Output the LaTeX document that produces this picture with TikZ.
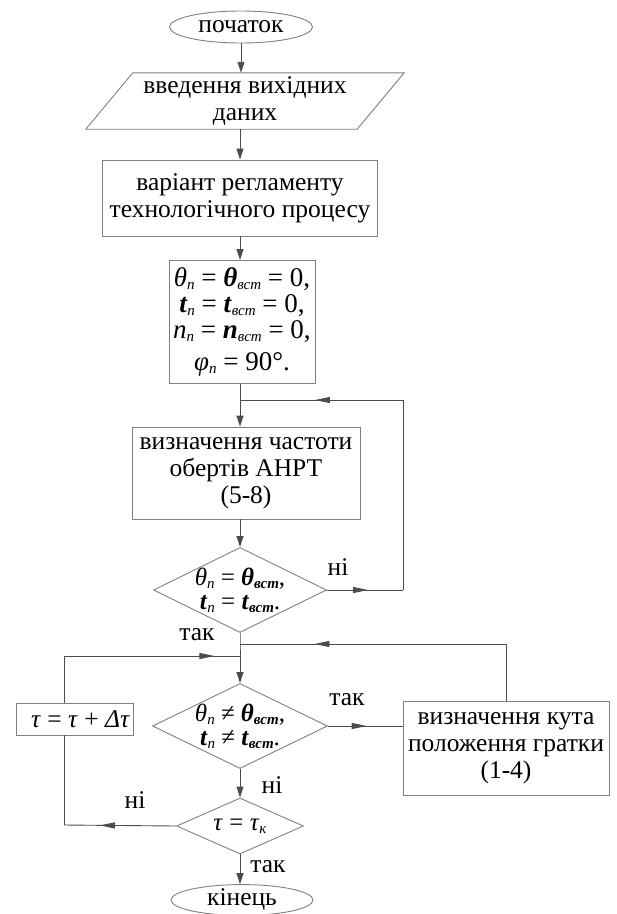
\documentclass[tikz,border=0pt]{standalone}
\usepackage{fontspec}
\setmainfont{Liberation Serif}
\usetikzlibrary{shapes.geometric,arrows.meta,decorations.markings,calc}

\newcommand{\bigtext}{\fontsize{25.5}{27}\selectfont}
\newcommand{\low}[1]{\raisebox{-0.25ex}{\fontsize{15}{15}\selectfont\itshape #1}}

\tikzset{
  line/.style={draw=black!70, line width=0.9pt},
  arr/.style={line, -{Triangle[length=11pt,width=7pt]}},
  block/.style={draw=black!50, line width=0.9pt, align=center, inner sep=2pt},
  terminal/.style={block, ellipse, inner sep=0pt},
  decision/.style={block, diamond, inner sep=-5pt, aspect=2, font=\fontsize{25}{24}\selectfont},
  tipat/.style={postaction={decorate}, decoration={markings,
      mark=at position #1 with {\arrow{Triangle[length=15pt,width=6pt]}}}},
}

\begin{document}
\begin{tikzpicture}[x=1pt, y=-1pt, font=\bigtext]
  \useasboundingbox (0,0) rectangle (617,914);

  \path
  (241,27) node[terminal, minimum width=143pt, minimum height=32pt] (start) {початок}
  (245,101) node[align=center, minimum width=271pt, minimum height=56pt, inner sep=0pt] (data) {введення вихідних\\даних}
  (240,198) node[block, minimum width=275pt, minimum height=76pt] (variant) {варіант регламенту\\технологічного процесу}
  (242,322) node[block, minimum width=146pt, minimum height=123pt, inner sep=0pt,
                 font=\fontsize{27}{26}\selectfont] (init) {%
    \textit{θ}\low{n} = \textbf{\textit{θ}}\low{вст} = 0,\\
    \textbf{\textit{t}}\low{n} = \textbf{\textit{t}}\low{вст} = 0,\\
    \textit{n}\low{n} = \textbf{\textit{n}}\low{вст} = 0,\\[6pt]
    \textit{φ}\low{n} = 90°.}
  (246,473) node[block, minimum width=228pt, minimum height=92pt] (freq) {визначення частоти\\обертів АНРТ\\(5-8)}
  (240,590) node[decision, minimum width=173pt, minimum height=85pt] (check1) {%
    \textit{θ}\low{n} = \textbf{\textit{θ}}\low{\bfseries вст},\\
    \textbf{\textit{t}}\low{n} = \textbf{\textit{t}}\low{\bfseries вст}.}
  (240,726) node[decision, minimum width=175pt, minimum height=85pt] (check2) {%
    \textit{θ}\low{n} ≠ \textbf{\textit{θ}}\low{\bfseries вст},\\
    \textbf{\textit{t}}\low{n} ≠ \textbf{\textit{t}}\low{\bfseries вст}.}
  (506,748) node[block, minimum width=206pt, minimum height=94pt, inner sep=0pt] (angle) {визначення кута\\положення гратки\\(1-4)}
  (74.5,719) node[block, minimum width=117pt, minimum height=32pt] (tstep) {\hspace*{12pt}\textit{τ} = \textit{τ} + \textit{Δτ}}
  (240,826) node[decision, minimum width=127pt, minimum height=56pt] (check3) {\textit{τ} = \textit{τ}\low{к}}
  (242,900) node[terminal, minimum width=142pt, minimum height=28pt] (finish) {кінець}
  (338,567) node (no1) {ні}
  (197,635) node (yes1) {так}
  (347,700) node (yes2) {так}
  (272,785) node (no2) {ні}
  (135,800) node (no3) {ні}
  (268,867) node (yes3) {так}
  ;

  \coordinate (join1) at (240,400);
  \coordinate (join2) at (240,644);
  \coordinate (join3) at (240,656);
  \coordinate (right1) at (403,590);
  \coordinate (left1) at (64,656);
  \coordinate (left2) at (64,825);

  % input parallelogram
  \draw[block] ($(data.south west)-(23.5,0)$) -- ($(data.north west)+(23.5,0)$)
    -- ($(data.north east)+(23.5,0)$) -- ($(data.south east)-(23.5,0)$) -- cycle;

  \draw[arr] (start.south) -- (start.south |- data.north);
  \draw[arr] (variant.north |- data.south) -- (variant.north);
  \draw[arr] (variant.south) -- (init.north -| variant.south);
  \draw[line] (init.south -| join1) -- (join1);
  \draw[arr] (join1) -- (join1 |- freq.north);
  \draw[arr] (join1 |- freq.south) -- (check1.north);
  \draw[line] (check1.south) -- (join2) -- (join3);
  \draw[arr] (join3) -- (check2.north);
  \draw[arr] (check2.south) -- (check3.north);
  \draw[arr] (check3.south) -- (check3.south |- finish.north);

  % loop back to frequency
  \draw[line, tipat=0.54] (check1.east) -- (right1);
  \draw[line] (right1) -- (right1 |- join1);
  \draw[line, tipat=0.54] (right1 |- join1) -- (join1);

  % loop from angle block
  \draw[line, tipat=0.52] (check2.east) -- (check2.east -| angle.west);
  \draw[line] (angle.north) -- (angle.north |- join2);
  \draw[line, tipat=0.72] (angle.north |- join2) -- (join2);

  % time step loop
  \draw[line, tipat=0.68] (check3.west) -- (left2);
  \draw[line] (left2) -- (left2 |- tstep.south);
  \draw[line] (left1 |- tstep.north) -- (left1);
  \draw[line, tipat=0.855] (left1) -- (join3);
\end{tikzpicture}
\end{document}
